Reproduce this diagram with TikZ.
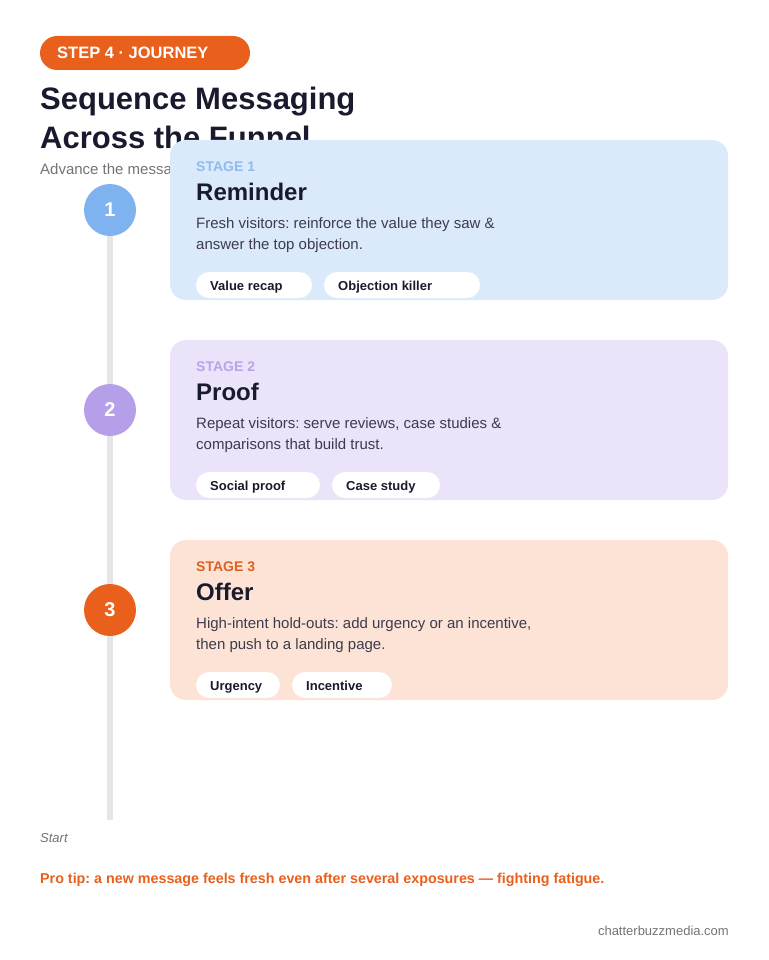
\documentclass[tikz,border=0pt]{standalone}
\usepackage{fontspec}
\setmainfont{Liberation Sans}
\frenchspacing
\definecolor{ink}{HTML}{1A1A2E}
\definecolor{accent}{HTML}{E8601C}
\definecolor{railgray}{HTML}{E6E6E6}
\definecolor{cardA}{HTML}{DBEAFA}\definecolor{dotA}{HTML}{7FB3EF}\definecolor{tagA}{HTML}{8FBCEC}
\definecolor{cardB}{HTML}{EBE3F9}\definecolor{dotB}{HTML}{B59FE8}\definecolor{tagB}{HTML}{B9A3EA}
\definecolor{cardC}{HTML}{FCE3D5}\definecolor{dotC}{HTML}{E8601C}\definecolor{tagC}{HTML}{E0601F}
\tikzset{
  pill/.style={fill=white, rounded corners=13pt},
  pilltext/.style={anchor=base west, inner sep=0pt, font=\fontsize{13}{15}\selectfont\bfseries, text=ink},
  dot/.style={circle, minimum size=52pt, inner sep=0pt, font=\fontsize{20}{22}\selectfont\bfseries, text=white}
}
\begin{document}
\begin{tikzpicture}[x=1pt,y=-1pt]
    % Page size
    \useasboundingbox (0,0) rectangle (768,960);

    % Header
    \fill[accent, rounded corners=17pt] (40,36) rectangle (250,70);
    \node[anchor=base west, inner sep=0pt, text=white, font=\fontsize{16.5}{20}\selectfont\bfseries] (badge) at (57,59) {STEP 4 · JOURNEY};
    \node[anchor=north west, inner sep=0pt, text=ink, align=left,
          font=\fontsize{31}{39}\selectfont\bfseries] (title) at (40,87) {Sequence Messaging\\Across the Funnel};
    \node[anchor=west, inner sep=0pt, text=gray!90!black, font=\fontsize{15}{18}\selectfont] (subtitle) at (40,171) {Advance the message};

    % Timeline rail
    \coordinate (railtop) at (110,210);
    \coordinate (railend) at (110,820);
    \draw[railgray, line width=6pt] (railtop) -- (railend);

    % Stages: number/y/colour key/title/line 1/line 2/tag 1/tag 1 width/tag 2/tag 2 width
    \foreach \n/\ypos/\key/\head/\lineA/\lineB/\tagX/\wX/\tagY/\wY in {%
      1/140/A/Reminder/{Fresh visitors: reinforce the value they saw \&}/{answer the top objection.}/{Value recap}/116/{Objection killer}/156,%
      2/340/B/Proof/{Repeat visitors: serve reviews, case studies \&}/{comparisons that build trust.}/{Social proof}/124/{Case study}/108,%
      3/540/C/Offer/{High-intent hold-outs: add urgency or an incentive,}/{then push to a landing page.}/{Urgency}/84/{Incentive}/100%
    } {
        \fill[card\key, rounded corners=16pt] (170,\ypos) rectangle (728,\ypos+160);
        \node[dot, fill=dot\key] (dot\n) at (110,\ypos+70) {\n};
        \node[anchor=west, inner sep=0pt, text=tag\key, font=\fontsize{14}{16}\selectfont\bfseries] (stage\n) at (196,\ypos+27) {STAGE \n};
        \node[anchor=west, inner sep=0pt, text=ink, font=\fontsize{24}{28}\selectfont\bfseries] (head\n) at (196,\ypos+52) {\head};
        \node[anchor=north west, inner sep=0pt, text=ink!85, align=left, font=\fontsize{15}{21}\selectfont] (body\n) at (196,\ypos+77) {\lineA\\\lineB};
        \fill[pill] (196,\ypos+132) rectangle (196+\wX,\ypos+158);
        \node[pilltext] (tagx\n) at (210,\ypos+150) {\tagX};
        \fill[pill] (208+\wX,\ypos+132) rectangle (208+\wX+\wY,\ypos+158);
        \node[pilltext] (tagy\n) at (222+\wX,\ypos+150) {\tagY};
    }

    % Footer
    \node[anchor=west, inner sep=0pt, text=gray!90!black, font=\fontsize{13}{15}\selectfont\itshape] (start) at (40,838) {Start};
    \node[anchor=west, inner sep=0pt, text=accent, font=\fontsize{14.3}{16}\selectfont\bfseries] (tip) at (40,880) {Pro tip: a new message feels fresh even after several exposures — fighting fatigue.};
    \node[anchor=east, inner sep=0pt, text=gray!90!black, font=\fontsize{13}{15}\selectfont] (site) at (729,931) {chatterbuzzmedia.com};
\end{tikzpicture}
\end{document}
